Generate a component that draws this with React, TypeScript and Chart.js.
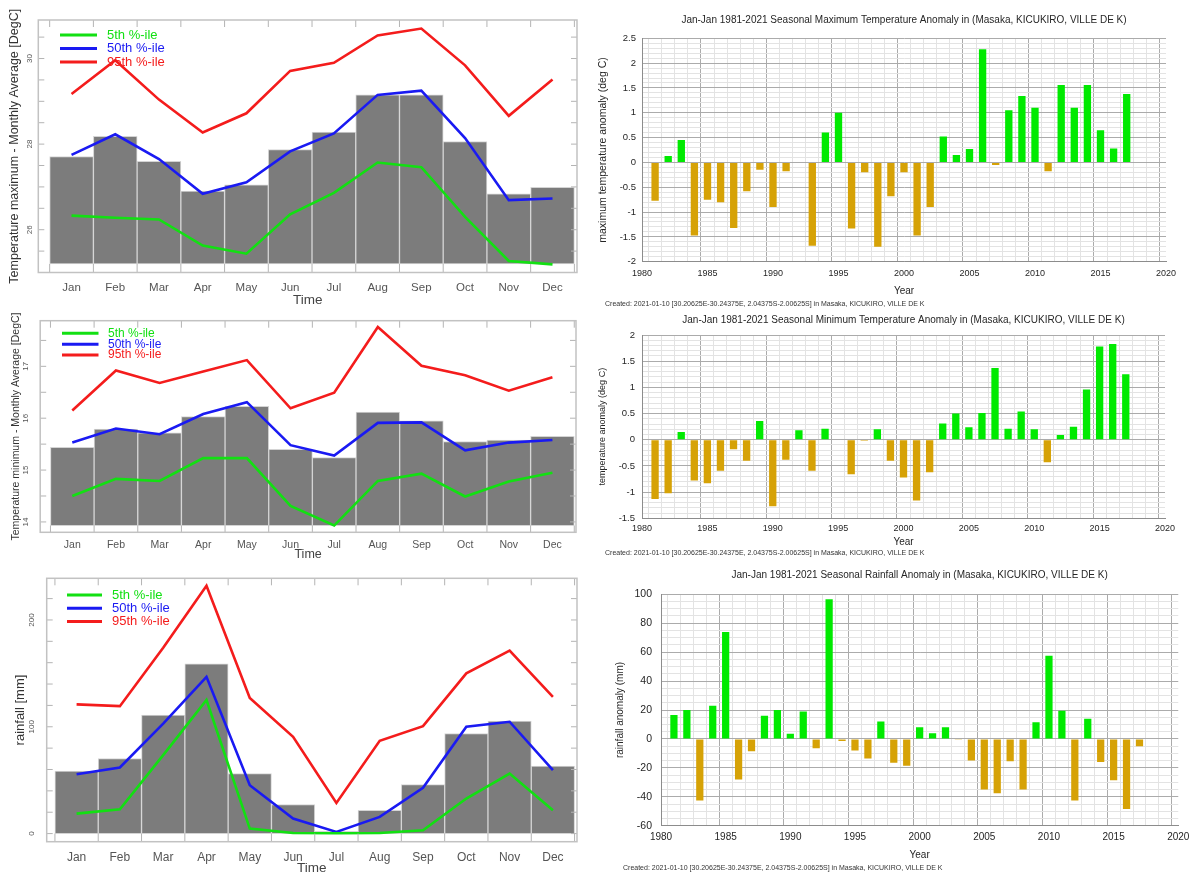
import { useEffect, useRef } from 'react';
import { Chart, registerables } from 'chart.js';

Chart.register(...registerables);

const FONT = "'Liberation Sans', Arial, Helvetica, sans-serif";

// ---- Monthly climatology (Masaka) ----
const MONTHS = ['Jan', 'Feb', 'Mar', 'Apr', 'May', 'Jun', 'Jul', 'Aug', 'Sep', 'Oct', 'Nov', 'Dec'];
const PCT_LABELS = ['5th %-ile', '50th %-ile', '95th %-ile'];

// Maximum temperature, monthly average [DegC]
const TMAX_MEAN = [27.71, 28.18, 27.6, 26.9, 27.05, 27.87, 28.28, 29.15, 29.15, 28.06, 26.84, 26.99];
const TMAX_P5 = [26.33, 26.28, 26.24, 25.63, 25.44, 26.36, 26.86, 27.57, 27.46, 26.3, 25.27, 25.19];
const TMAX_P50 = [27.75, 28.23, 27.65, 26.84, 27.11, 27.83, 28.25, 29.15, 29.25, 28.14, 26.69, 26.73];
const TMAX_P95 = [29.17, 29.96, 29.04, 28.27, 28.72, 29.71, 29.9, 30.54, 30.7, 29.84, 28.66, 29.51];
const TMAX_TICKS = [26, 28, 30];

// Minimum temperature, monthly average [DegC]
const TMIN_MEAN = [15.44, 15.79, 15.72, 16.03, 16.23, 15.4, 15.24, 16.12, 15.95, 15.55, 15.58, 15.65];
const TMIN_P5 = [14.5, 14.83, 14.79, 15.23, 15.23, 14.31, 13.93, 14.79, 14.93, 14.49, 14.78, 14.95];
const TMIN_P50 = [15.53, 15.8, 15.69, 16.08, 16.31, 15.48, 15.28, 15.91, 15.92, 15.38, 15.53, 15.58];
const TMIN_P95 = [16.15, 16.92, 16.68, 16.9, 17.12, 16.19, 16.49, 17.76, 17.01, 16.83, 16.53, 16.79];
const TMIN_TICKS = [14, 15, 16, 17];

// Rainfall [mm]
const RAIN_MEAN = [58.4, 70.3, 110.9, 159, 56.2, 27.2, 2, 21.8, 45.9, 93.7, 105.3, 63.1];
const RAIN_P5 = [18.7, 22.8, 73.4, 125, 4.7, 0.5, 0.3, 0.5, 3.1, 32.8, 56.2, 21.8];
const RAIN_P50 = [55.6, 61.9, 103, 146.8, 45.3, 14.1, 1.5, 15.6, 42.8, 100, 104.7, 59.4];
const RAIN_P95 = [121, 119.3, 174, 232, 127, 90.6, 28.7, 86.8, 100.6, 150, 171.2, 128];
const RAIN_TICKS = [0, 100, 200];

// ---- Seasonal anomalies, Jan-Jan ----
const YEARS = [
  1981, 1982, 1983, 1984, 1985, 1986, 1987, 1988, 1989, 1990, 1991, 1992, 1993, 1994, 1995, 1996, 1997, 1998, 1999,
  2000, 2001, 2002, 2003, 2004, 2005, 2006, 2007, 2008, 2009, 2010, 2011, 2012, 2013, 2014, 2015, 2016, 2017,
];
const TMAX_ANOM = [
  -0.77, 0.13, 0.45, -1.47, -0.75, -0.8, -1.32, -0.58, -0.15, -0.9, -0.18, 0.01, -1.68, 0.6, 1.0, -1.33, -0.2, -1.7, -0.68,
  -0.2, -1.47, -0.9, 0.52, 0.15, 0.27, 2.28, -0.05, 1.05, 1.34, 1.1, -0.18, 1.56, 1.1, 1.56, 0.65, 0.28, 1.38,
];
const TMIN_ANOM = [
  -1.13, -1.02, 0.15, -0.78, -0.83, -0.59, -0.18, -0.4, 0.36, -1.27, -0.38, 0.18, -0.59, 0.21, 0.01, -0.66, -0.02, 0.2, -0.4,
  -0.72, -1.16, -0.62, 0.31, 0.5, 0.24, 0.51, 1.37, 0.21, 0.54, 0.2, -0.43, 0.09, 0.25, 0.96, 1.78, 1.83, 1.25,
];
const RAIN_ANOM = [
  16.5, 20, -42.5, 23, 74, -28, -8.5, 16, 20, 3.5, 19, -6.5, 96.5, -1.5, -8, -13.5, 12, -16.5, -18.5,
  8, 4, 8, -0.5, -15, -35, -37.5, -15.5, -35, 11.5, 57.5, 19.5, -42.5, 14, -16, -28.5, -48.5, -5,
];

const PLACE = '(Masaka, KICUKIRO, VILLE DE K)';
const FOOTER = 'Created: 2021-01-10 [30.20625E-30.24375E, 2.04375S-2.00625S] in Masaka, KICUKIRO, VILLE DE K';

// ---- colours ----
const GREEN = '#12e012';
const BLUE = '#1a1af2';
const RED = '#f41c1c';
const BAR_GREY = '#7c7c7c';
const BAR_EDGE = '#d4d4d4';
const POS = '#00ea00';
const NEG = '#d6a206';
const TXT = '#262626';
const GRID_MAJOR = '#ababab';
const GRID_MINOR = '#e3e3e3';

const near = (v: number, step: number) => Math.abs(v / step - Math.round(v / step)) < 1e-6;

// Frame with inward tick marks around the monthly panels
const monthFrame = {
  id: 'monthFrame',
  afterDatasetsDraw(chart: any, _args: any, opts: any) {
    const { ctx, chartArea, scales } = chart;
    const { left, right, top, bottom } = chartArea;
    const x = scales.x;
    const y = scales.y;
    const seg = (x0: number, y0: number, x1: number, y1: number) => {
      ctx.beginPath();
      ctx.moveTo(x0, y0);
      ctx.lineTo(x1, y1);
      ctx.stroke();
    };
    ctx.save();
    ctx.strokeStyle = '#b4b4b4';
    ctx.lineWidth = 1;
    const start = Math.ceil(y.min / opts.yStep) * opts.yStep;
    for (let v = start; v <= y.max + 1e-9; v += opts.yStep) {
      const py = y.getPixelForValue(v);
      seg(left, py, left + 6, py);
      seg(right - 6, py, right, py);
    }
    const basePx = y.getPixelForValue(opts.base);
    for (let i = 0; i <= MONTHS.length; i++) {
      const px = x.getPixelForValue(i - 0.5);
      seg(px, top, px, top + 7);
      seg(px, basePx, px, bottom);
    }
    ctx.lineWidth = 1.5;
    ctx.strokeStyle = '#c2c2c2';
    ctx.strokeRect(left, top, right - left, bottom - top);
    ctx.restore();
  },
};

// Key of the percentile lines, drawn inside the plot area
const seriesKey = {
  id: 'seriesKey',
  afterDatasetsDraw(chart: any, _args: any, opts: any) {
    const { ctx, chartArea } = chart;
    const lines = chart.data.datasets.filter((d: any) => d.type === 'line');
    ctx.save();
    ctx.font = `${opts.fontSize}px ${FONT}`;
    ctx.textBaseline = 'middle';
    ctx.textAlign = 'left';
    lines.forEach((d: any, i: number) => {
      const yy = chartArea.top + opts.top + i * opts.gap;
      ctx.strokeStyle = d.borderColor;
      ctx.lineWidth = 3;
      ctx.beginPath();
      ctx.moveTo(chartArea.left + opts.x0, yy);
      ctx.lineTo(chartArea.left + opts.x1, yy);
      ctx.stroke();
      ctx.fillStyle = d.borderColor;
      ctx.fillText(d.label, chartArea.left + opts.tx, yy);
    });
    ctx.restore();
  },
};

interface MonthlySpec {
  mean: number[];
  p5: number[];
  p50: number[];
  p95: number[];
  base: number;
  xMin: number;
  xMax: number;
  yMin: number;
  yMax: number;
  yTicks: number[];
  yStep: number;
  yTitle: string;
  yTitleSize: number;
  yTitlePad: number;
  yWidth: number;
  yTickPad: number;
  xHeight: number;
  xTickSize: number;
  xTickPad: number;
  timeSize: number;
  timePad: number;
  padTop: number;
  padRight: number;
  key: { x0: number; x1: number; tx: number; top: number; gap: number; fontSize: number };
}

const toPoints = (vals: number[]) => vals.map((v, i) => ({ x: i, y: v }));

function monthlyConfig(s: MonthlySpec): any {
  const line = (label: string, vals: number[], color: string) => ({
    type: 'line',
    label,
    data: toPoints(vals),
    borderColor: color,
    backgroundColor: color,
    borderWidth: 2.6,
    pointRadius: 0,
    tension: 0,
    fill: false,
    order: 1,
  });
  return {
    type: 'bar',
    data: {
      datasets: [
        line(PCT_LABELS[0], s.p5, GREEN),
        line(PCT_LABELS[1], s.p50, BLUE),
        line(PCT_LABELS[2], s.p95, RED),
        {
          type: 'bar',
          label: 'monthly mean',
          data: s.mean.map((v, i) => ({ x: i, y: [s.base, v] })),
          backgroundColor: BAR_GREY,
          borderColor: BAR_EDGE,
          borderWidth: 1,
          borderSkipped: false,
          barPercentage: 1,
          categoryPercentage: 1,
          order: 2,
        },
      ],
    },
    options: {
      responsive: false,
      animation: false,
      devicePixelRatio: 1,
      layout: { padding: { left: 0, top: s.padTop, right: s.padRight, bottom: 0 } },
      plugins: {
        legend: { display: false },
        tooltip: { enabled: false },
        monthFrame: { yStep: s.yStep, base: s.base },
        seriesKey: s.key,
      },
      scales: {
        x: {
          type: 'linear',
          min: s.xMin,
          max: s.xMax,
          offset: false,
          grid: { display: false, drawTicks: false },
          border: { display: false },
          afterBuildTicks: (sc: any) => {
            sc.ticks = MONTHS.map((_, i) => ({ value: i }));
          },
          ticks: {
            autoSkip: false,
            maxRotation: 0,
            padding: s.xTickPad,
            color: '#555',
            font: { family: FONT, size: s.xTickSize },
            callback: (v: any) => MONTHS[v] ?? '',
          },
          title: {
            display: true,
            text: 'Time',
            color: '#444',
            font: { family: FONT, size: s.timeSize },
            padding: { top: 0, bottom: s.timePad },
          },
          afterFit: (sc: any) => {
            sc.height = s.xHeight;
          },
        },
        y: {
          type: 'linear',
          min: s.yMin,
          max: s.yMax,
          grid: { display: false, drawTicks: false },
          border: { display: false },
          afterBuildTicks: (sc: any) => {
            sc.ticks = s.yTicks.map((v) => ({ value: v }));
          },
          ticks: {
            autoSkip: false,
            minRotation: 90,
            maxRotation: 90,
            crossAlign: 'center',
            padding: s.yTickPad,
            color: '#555',
            font: { family: FONT, size: 8 },
            callback: (v: any) => String(v),
          },
          title: {
            display: true,
            text: s.yTitle,
            color: '#333',
            font: { family: FONT, size: s.yTitleSize },
            padding: { top: s.yTitlePad, bottom: 0 },
          },
          afterFit: (sc: any) => {
            sc.width = s.yWidth;
          },
        },
      },
    },
    plugins: [monthFrame, seriesKey],
  };
}

interface AnomalySpec {
  values: number[];
  title: string;
  yTitle: string;
  yTitleSize: number;
  yMin: number;
  yMax: number;
  yStep: number;
  yMajor: number;
  padLeft: number;
  padRight: number;
  titleTop: number;
  titleBottom: number;
  footBottom: number;
  xHeight: number;
  xTickPad: number;
  yearPad: number;
  yWidth: number;
  yTitlePad: number;
  yTickPad: number;
  tickSize: number;
  yTickSize: number;
}

function anomalyConfig(s: AnomalySpec): any {
  const fmt = (v: number) => String(Math.round(v * 10) / 10);
  return {
    type: 'bar',
    data: {
      datasets: [
        {
          label: s.yTitle,
          data: YEARS.map((yr, i) => ({ x: yr, y: s.values[i] })),
          backgroundColor: s.values.map((v) => (v >= 0 ? POS : NEG)),
          borderWidth: 0,
          barPercentage: 0.56,
          categoryPercentage: 1,
        },
      ],
    },
    options: {
      responsive: false,
      animation: false,
      devicePixelRatio: 1,
      layout: { padding: { left: s.padLeft, right: s.padRight, top: 0, bottom: 0 } },
      plugins: {
        legend: { display: false },
        tooltip: { enabled: false },
        title: {
          display: true,
          text: s.title,
          fullSize: false,
          color: TXT,
          font: { family: FONT, size: 10, weight: 'normal' },
          padding: { top: s.titleTop, bottom: s.titleBottom },
        },
        subtitle: {
          display: true,
          text: FOOTER,
          position: 'bottom',
          align: 'start',
          color: '#333',
          font: { family: FONT, size: 7 },
          padding: { top: 1, bottom: s.footBottom },
        },
      },
      scales: {
        x: {
          type: 'linear',
          min: 1980,
          max: 2020,
          offset: false,
          grid: {
            drawTicks: false,
            lineWidth: 1,
            color: (c: any) => (c.tick && near(c.tick.value, 5) ? GRID_MAJOR : GRID_MINOR),
          },
          border: { display: true, color: '#8c8c8c' },
          ticks: {
            stepSize: 1,
            autoSkip: false,
            maxRotation: 0,
            padding: s.xTickPad,
            color: TXT,
            font: { family: FONT, size: s.tickSize },
            callback: (v: any) => (near(v, 5) ? String(Math.round(v)) : ''),
          },
          title: {
            display: true,
            text: 'Year',
            color: TXT,
            font: { family: FONT, size: 10 },
            padding: { top: 0, bottom: s.yearPad },
          },
          afterFit: (sc: any) => {
            sc.height = s.xHeight;
          },
        },
        y: {
          type: 'linear',
          min: s.yMin,
          max: s.yMax,
          grid: {
            drawTicks: false,
            lineWidth: 1,
            color: (c: any) => (c.tick && near(c.tick.value, s.yMajor) ? GRID_MAJOR : GRID_MINOR),
          },
          border: { display: true, color: '#8c8c8c' },
          ticks: {
            stepSize: s.yStep,
            autoSkip: false,
            padding: s.yTickPad,
            color: TXT,
            font: { family: FONT, size: s.yTickSize },
            callback: (v: any) => (near(v, s.yMajor) ? fmt(v) : ''),
          },
          title: {
            display: true,
            text: s.yTitle,
            color: TXT,
            font: { family: FONT, size: s.yTitleSize },
            padding: { top: s.yTitlePad, bottom: 0 },
          },
          afterFit: (sc: any) => {
            sc.width = s.yWidth;
          },
        },
      },
    },
  };
}

function ChartBox(props: { left: number; top: number; width: number; height: number; config: () => any }) {
  const ref = useRef<HTMLCanvasElement>(null);
  useEffect(() => {
    const chart = new Chart(ref.current as HTMLCanvasElement, props.config());
    return () => chart.destroy();
  }, []);
  return (
    <canvas
      ref={ref}
      width={props.width}
      height={props.height}
      style={{ position: 'absolute', left: props.left, top: props.top, width: props.width, height: props.height }}
    />
  );
}

export default function App() {
  return (
    <div
      style={{
        position: 'fixed',
        left: 0,
        top: 0,
        width: 1195,
        height: 876,
        overflow: 'hidden',
        background: '#ffffff',
      }}
    >
      <ChartBox
        left={0}
        top={0}
        width={590}
        height={310}
        config={() =>
          monthlyConfig({
            mean: TMAX_MEAN,
            p5: TMAX_P5,
            p50: TMAX_P50,
            p95: TMAX_P95,
            base: 25.2,
            xMin: -0.76,
            xMax: 11.56,
            yMin: 25.0,
            yMax: 30.9,
            yTicks: TMAX_TICKS,
            yStep: 0.5,
            yTitle: 'Temperature maximum - Monthly Average [DegC]',
            yTitleSize: 12.5,
            yTitlePad: 7.5,
            yWidth: 38.3,
            yTickPad: 4,
            xHeight: 37.5,
            xTickSize: 11.5,
            xTickPad: 8.3,
            timeSize: 13.5,
            timePad: 2,
            padTop: 20,
            padRight: 13,
            key: { x0: 21.7, x1: 58.7, tx: 68.7, top: 15, gap: 13.5, fontSize: 13 },
          })
        }
      />
      <ChartBox
        left={0}
        top={303}
        width={590}
        height={262}
        config={() =>
          monthlyConfig({
            mean: TMIN_MEAN,
            p5: TMIN_P5,
            p50: TMIN_P50,
            p95: TMIN_P95,
            base: 13.93,
            xMin: -0.735,
            xMax: 11.54,
            yMin: 13.8,
            yMax: 17.88,
            yTicks: TMIN_TICKS,
            yStep: 0.5,
            yTitle: 'Temperature minimum - Monthly Average [DegC]',
            yTitleSize: 10.5,
            yTitlePad: 9.7,
            yWidth: 40.2,
            yTickPad: 9.5,
            xHeight: 32.7,
            xTickSize: 10.5,
            xTickPad: 6.4,
            timeSize: 12.5,
            timePad: 2.5,
            padTop: 17.7,
            padRight: 14,
            key: { x0: 21.8, x1: 58.3, tx: 67.8, top: 12.6, gap: 10.9, fontSize: 12 },
          })
        }
      />
      <ChartBox
        left={0}
        top={565}
        width={590}
        height={311}
        config={() =>
          monthlyConfig({
            mean: RAIN_MEAN,
            p5: RAIN_P5,
            p50: RAIN_P50,
            p95: RAIN_P95,
            base: 0,
            xMin: -0.69,
            xMax: 11.556,
            yMin: -7.6,
            yMax: 239,
            yTicks: RAIN_TICKS,
            yStep: 20,
            yTitle: 'rainfall [mm]',
            yTitleSize: 13,
            yTitlePad: 13,
            yWidth: 46.7,
            yTickPad: 7.9,
            xHeight: 34.3,
            xTickSize: 12,
            xTickPad: 8.3,
            timeSize: 13.5,
            timePad: 0,
            padTop: 13.3,
            padRight: 13,
            key: { x0: 20.3, x1: 55.3, tx: 65.3, top: 16.7, gap: 13.3, fontSize: 13 },
          })
        }
      />
      <ChartBox
        left={590}
        top={0}
        width={605}
        height={310}
        config={() =>
          anomalyConfig({
            values: TMAX_ANOM,
            title: `Jan-Jan 1981-2021 Seasonal Maximum Temperature Anomaly in ${PLACE}`,
            yTitle: 'maximum temperature anomaly (deg C)',
            yTitleSize: 10.5,
            yMin: -2,
            yMax: 2.5,
            yStep: 0.1,
            yMajor: 0.5,
            padLeft: 15,
            padRight: 29,
            titleTop: 14.7,
            titleBottom: 11.6,
            footBottom: 2,
            xHeight: 36.9,
            xTickPad: 6.3,
            yearPad: 0.9,
            yWidth: 37,
            yTitlePad: -8,
            yTickPad: 6,
            tickSize: 9,
            yTickSize: 9.5,
          })
        }
      />
      <ChartBox
        left={590}
        top={306}
        width={605}
        height={254}
        config={() =>
          anomalyConfig({
            values: TMIN_ANOM,
            title: `Jan-Jan 1981-2021 Seasonal Minimum Temperature Anomaly in ${PLACE}`,
            yTitle: 'temperature anomaly (deg C)',
            yTitleSize: 9,
            yMin: -1.5,
            yMax: 2,
            yStep: 0.1,
            yMajor: 0.5,
            padLeft: 15,
            padRight: 30,
            titleTop: 8.7,
            titleBottom: 8.3,
            footBottom: 2.5,
            xHeight: 29.8,
            xTickPad: 4.7,
            yearPad: 0,
            yWidth: 37,
            yTitlePad: -8,
            yTickPad: 7,
            tickSize: 9,
            yTickSize: 9.5,
          })
        }
      />
      <ChartBox
        left={590}
        top={560}
        width={605}
        height={316}
        config={() =>
          anomalyConfig({
            values: RAIN_ANOM,
            title: `Jan-Jan 1981-2021 Seasonal Rainfall Anomaly in ${PLACE}`,
            yTitle: 'rainfall anomaly (mm)',
            yTitleSize: 10,
            yMin: -60,
            yMax: 100,
            yStep: 5,
            yMajor: 20,
            padLeft: 33,
            padRight: 15,
            titleTop: 9.7,
            titleBottom: 12.6,
            footBottom: 3.5,
            xHeight: 37.4,
            xTickPad: 5.6,
            yearPad: 2.1,
            yWidth: 38,
            yTitlePad: -9,
            yTickPad: 9,
            tickSize: 10,
            yTickSize: 10.5,
          })
        }
      />
    </div>
  );
}
